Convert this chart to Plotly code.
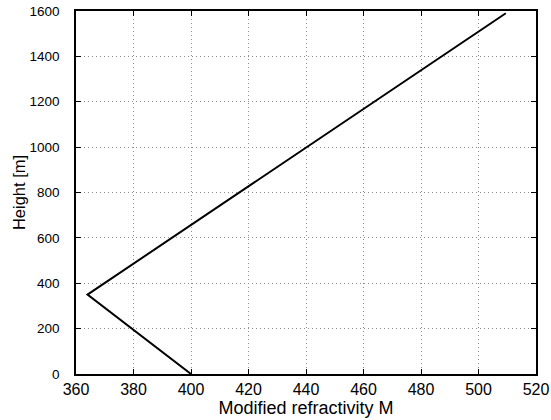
import plotly.graph_objects as go

refractivity_M = [400.0, 364.0, 509.5]
height_m = [0.0, 350.0, 1590.0]

x_ticks = list(range(360, 521, 20))
y_ticks = list(range(0, 1601, 200))

fig = go.Figure()
fig.add_trace(go.Scatter(x=refractivity_M, y=height_m, mode="lines",
                         line=dict(color="black", width=2), showlegend=False,
                         hoverinfo="skip"))

font_family = "Liberation Sans, Arial, Helvetica, sans-serif"

fig.update_layout(
    width=551, height=420,
    margin=dict(l=75.5, r=14.5, t=11, b=45.7, autoexpand=False),
    paper_bgcolor="white", plot_bgcolor="white",
    font=dict(family=font_family, color="black"),
    xaxis=dict(
        range=[360, 520], tickvals=x_ticks, ticktext=[str(v) for v in x_ticks],
        showline=True, linecolor="black", linewidth=1.5, mirror="ticks",
        ticks="inside", ticklen=5, tickcolor="black", tickwidth=1,
        showgrid=True, gridcolor="#8c8c8c", griddash="1px,3px", gridwidth=1,
        zeroline=False, tickfont=dict(size=16, family=font_family),
        ticklabelstandoff=0, automargin=False,
        title=dict(text="Modified refractivity M", font=dict(size=18, family=font_family), standoff=0),
    ),
    yaxis=dict(
        range=[0, 1600], tickvals=y_ticks, ticktext=[str(v) for v in y_ticks],
        showline=True, linecolor="black", linewidth=1.5, mirror="ticks",
        ticks="inside", ticklen=5, tickcolor="black", tickwidth=1,
        showgrid=True, gridcolor="#8c8c8c", griddash="1px,3px", gridwidth=1,
        zeroline=False, tickfont=dict(size=13.5, family=font_family),
        ticklabelstandoff=12, automargin=False,
        title=dict(text="Height [m]", font=dict(size=16.5, family=font_family), standoff=0),
    ),
)

fig.write_html("out.html")
